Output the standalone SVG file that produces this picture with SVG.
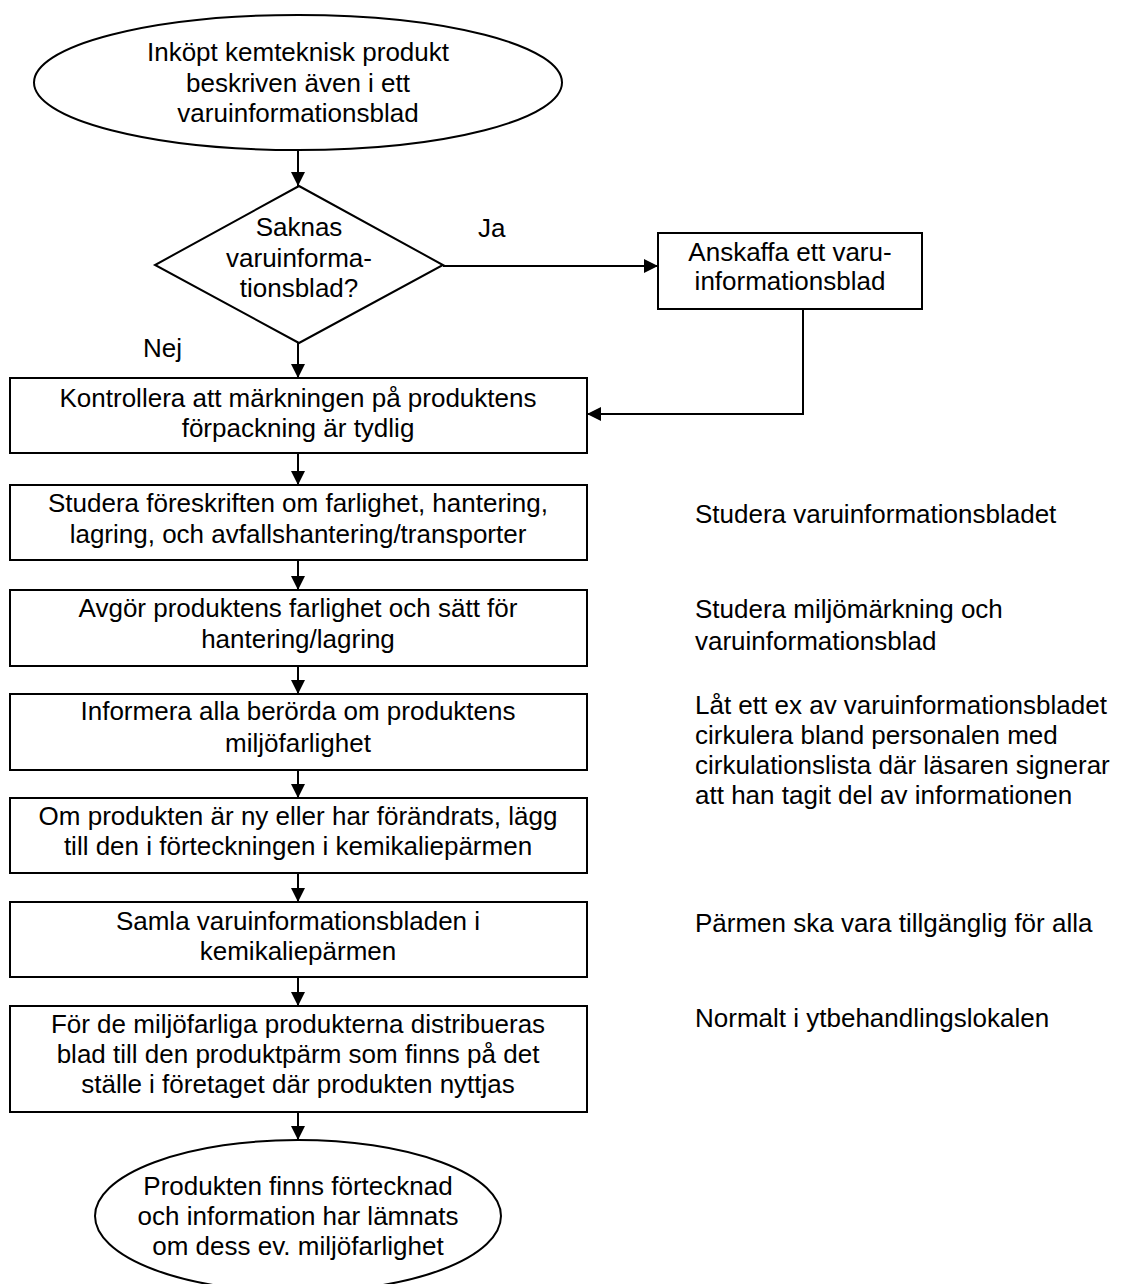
<svg xmlns="http://www.w3.org/2000/svg" width="1123" height="1284" viewBox="0 0 1123 1284">
<style>
  .shape { fill: #ffffff; stroke: #000000; stroke-width: 2; }
  .conn { fill: none; stroke: #000000; stroke-width: 2; }
  text { font-family: "Liberation Sans", Arial, sans-serif; font-size: 26px; fill: #000000; }
  .c { text-anchor: middle; }
</style>
<defs>
  <marker id="arrow" markerUnits="userSpaceOnUse" markerWidth="14" markerHeight="14" refX="14" refY="7" orient="auto">
    <path d="M0,0 L14,7 L0,14 z" fill="#000000"/>
  </marker>
</defs>
<rect width="1123" height="1284" fill="#ffffff"/>

<g id="start">
  <ellipse class="shape" cx="298" cy="82.5" rx="264" ry="67.5"/>
  <text class="c" x="298" y="61">Inköpt kemteknisk produkt</text>
  <text class="c" x="298" y="92">beskriven även i ett</text>
  <text class="c" x="298" y="122">varuinformationsblad</text>
</g>

<g id="decision">
  <polygon class="shape" points="299,186 443,265 299,343 155,265"/>
  <text class="c" x="299" y="236">Saknas</text>
  <text class="c" x="299" y="267">varuinforma-</text>
  <text class="c" x="299" y="297">tionsblad?</text>
</g>

<g id="anskaffa">
  <rect class="shape" x="658" y="233" width="264" height="76"/>
  <text class="c" x="790" y="261">Anskaffa ett varu-</text>
  <text class="c" x="790" y="290">informationsblad</text>
</g>

<g id="kontrollera">
  <rect class="shape" x="10" y="378" width="577" height="75"/>
  <text class="c" x="298" y="407">Kontrollera att märkningen på produktens</text>
  <text class="c" x="298" y="437">förpackning är tydlig</text>
</g>

<g id="studera">
  <rect class="shape" x="10" y="485" width="577" height="75"/>
  <text class="c" x="298" y="512">Studera föreskriften om farlighet, hantering,</text>
  <text class="c" x="298" y="543">lagring, och avfallshantering/transporter</text>
</g>

<g id="avgor">
  <rect class="shape" x="10" y="590" width="577" height="76"/>
  <text class="c" x="298" y="617">Avgör produktens farlighet och sätt för</text>
  <text class="c" x="298" y="648">hantering/lagring</text>
</g>

<g id="informera">
  <rect class="shape" x="10" y="694" width="577" height="76"/>
  <text class="c" x="298" y="720">Informera alla berörda om produktens</text>
  <text class="c" x="298" y="752">miljöfarlighet</text>
</g>

<g id="om-produkten">
  <rect class="shape" x="10" y="798" width="577" height="75"/>
  <text class="c" x="298" y="825">Om produkten är ny eller har förändrats, lägg</text>
  <text class="c" x="298" y="855">till den i förteckningen i kemikaliepärmen</text>
</g>

<g id="samla">
  <rect class="shape" x="10" y="902" width="577" height="75"/>
  <text class="c" x="298" y="930">Samla varuinformationsbladen i</text>
  <text class="c" x="298" y="960">kemikaliepärmen</text>
</g>

<g id="for-de">
  <rect class="shape" x="10" y="1006" width="577" height="106"/>
  <text class="c" x="298" y="1033">För de miljöfarliga produkterna distribueras</text>
  <text class="c" x="298" y="1063">blad till den produktpärm som finns på det</text>
  <text class="c" x="298" y="1093">ställe i företaget där produkten nyttjas</text>
</g>

<g id="end">
  <ellipse class="shape" cx="298" cy="1216" rx="203" ry="76"/>
  <text class="c" x="298" y="1195">Produkten finns förtecknad</text>
  <text class="c" x="298" y="1225">och information har lämnats</text>
  <text class="c" x="298" y="1255">om dess ev. miljöfarlighet</text>
</g>

<g id="notes">
  <text x="695" y="523">Studera varuinformationsbladet</text>
  <text x="695" y="618">Studera miljömärkning och</text>
  <text x="695" y="650">varuinformationsblad</text>
  <text x="695" y="714">Låt ett ex av varuinformationsbladet</text>
  <text x="695" y="744">cirkulera bland personalen med</text>
  <text x="695" y="774">cirkulationslista där läsaren signerar</text>
  <text x="695" y="804">att han tagit del av informationen</text>
  <text x="695" y="932">Pärmen ska vara tillgänglig för alla</text>
  <text x="695" y="1027">Normalt i ytbehandlingslokalen</text>
</g>

<g id="labels">
  <text x="478" y="237">Ja</text>
  <text x="143" y="357">Nej</text>
</g>

<g id="connectors">
  <line class="conn" x1="298" y1="150" x2="298" y2="186" marker-end="url(#arrow)"/>
  <line class="conn" x1="298" y1="343" x2="298" y2="378" marker-end="url(#arrow)"/>
  <line class="conn" x1="443" y1="266" x2="658" y2="266" marker-end="url(#arrow)"/>
  <polyline class="conn" points="803,309 803,414 587,414" marker-end="url(#arrow)"/>
  <line class="conn" x1="298" y1="453" x2="298" y2="485" marker-end="url(#arrow)"/>
  <line class="conn" x1="298" y1="560" x2="298" y2="590" marker-end="url(#arrow)"/>
  <line class="conn" x1="298" y1="666" x2="298" y2="694" marker-end="url(#arrow)"/>
  <line class="conn" x1="298" y1="770" x2="298" y2="798" marker-end="url(#arrow)"/>
  <line class="conn" x1="298" y1="873" x2="298" y2="902" marker-end="url(#arrow)"/>
  <line class="conn" x1="298" y1="977" x2="298" y2="1006" marker-end="url(#arrow)"/>
  <line class="conn" x1="298" y1="1112" x2="298" y2="1140" marker-end="url(#arrow)"/>
</g>
</svg>
